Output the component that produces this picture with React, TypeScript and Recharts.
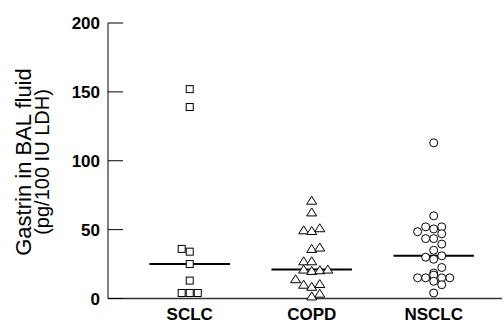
import React from 'react';
import { ScatterChart, Scatter, XAxis, YAxis, ReferenceLine } from 'recharts';

const groups = ['SCLC', 'COPD', 'NSCLC'];
const yTicks = [0, 50, 100, 150, 200];

// gastrin values, with the column slot each marker sits in
const sclcValues = [152, 139, 36, 34, 25, 13, 4, 4, 4];
const sclcSlots = [0, 0, -1, 0, 0, 0, -1, 0, 1];

const copdValues = [71, 62.5, 49.5, 49, 51, 36, 37, 27, 27, 21, 20, 20.5, 21, 14, 10, 8.5, 10.5, 1.5, 3.5];
const copdSlots = [0, 0, -1, 0, 1, 0, 1, -1, 0, -1, 0, 1, 2, -2, -1, 0, 1, 0, 1];

const nsclcValues = [113, 60, 52, 50.5, 52, 48.5, 47, 43.5, 43.5, 39.5, 35, 30, 28.5, 31, 22.5, 18.5, 15, 15, 17, 12.5, 15, 15, 10, 4];
const nsclcSlots = [0, 0, -1, 0, 1, -2, 1, -1, 0, 1, 0, -1, 0, 1, 1, 0, -2, -1, 0, 0, 1, 2, 1, 0];

const medians = [25, 21, 31];

const SLOT = 0.066;
const HALF = 0.33;
const FONT = '"Liberation Sans", Arial, Helvetica, sans-serif';

const toPoints = (values: number[], slots: number[], pos: number) =>
  values.map((v, i) => ({ x: pos + slots[i] * SLOT, y: v }));

const sclcData = toPoints(sclcValues, sclcSlots, 1);
const copdData = toPoints(copdValues, copdSlots, 2);
const nsclcData = toPoints(nsclcValues, nsclcSlots, 3);

const Square = ({ cx, cy }: any) => (
  <rect x={cx - 3.5} y={cy - 3.5} width={7} height={7} fill="#fff" stroke="#000" strokeWidth={1} />
);

const Triangle = ({ cx, cy }: any) => (
  <polygon
    points={`${cx},${cy - 4.5} ${cx - 5},${cy + 3.5} ${cx + 5},${cy + 3.5}`}
    fill="#fff"
    stroke="#000"
    strokeWidth={1}
  />
);

const Ring = ({ cx, cy }: any) => (
  <circle cx={cx} cy={cy} r={4} fill="#fff" stroke="#000" strokeWidth={1} />
);

// y ticks point into the plot, labels stay on the left
const YTick = ({ x, y, payload }: any) => (
  <g>
    <line x1={x + 8} x2={x + 23} y1={y} y2={y} stroke="#000" strokeWidth={1} />
    <text x={x} y={y} dy="0.36em" textAnchor="end" fontFamily={FONT} fontSize={17} fontWeight="bold" fill="#000">
      {payload.value}
    </text>
  </g>
);

const YTitle = () => (
  <g>
    <text
      x={23}
      y={162}
      transform="rotate(-90, 23, 162)"
      textAnchor="middle"
      dominantBaseline="central"
      fontFamily={FONT}
      fontSize={22}
      fill="#000"
    >
      Gastrin in BAL fluid
    </text>
    <text
      x={42}
      y={162}
      transform="rotate(-90, 42, 162)"
      textAnchor="middle"
      dominantBaseline="central"
      fontFamily={FONT}
      fontSize={20}
      fill="#000"
    >
      (pg/100 IU LDH)
    </text>
  </g>
);

export default function App() {
  return (
    <div style={{ position: 'absolute', left: 0, top: 0, background: '#fff' }}>
      <ScatterChart width={504} height={323} margin={{ top: 23, right: 2, bottom: 0, left: 0 }}>
        <XAxis
          type="number"
          dataKey="x"
          domain={[0.33, 3.56]}
          ticks={[1, 2, 3]}
          tickFormatter={(v: number) => groups[Math.round(v) - 1]}
          allowDataOverflow
          height={24.5}
          tickLine={false}
          tickSize={0}
          tickMargin={9}
          axisLine={{ stroke: '#333', strokeWidth: 1.5 }}
          tick={{ fill: '#000', fontSize: 17, fontWeight: 'bold', fontFamily: FONT }}
        />
        <YAxis
          type="number"
          dataKey="y"
          domain={[0, 200]}
          ticks={yTicks}
          width={108}
          tickLine={false}
          tickSize={0}
          tickMargin={8}
          axisLine={{ stroke: '#000', strokeWidth: 1 }}
          tick={<YTick />}
          label={{ content: () => <YTitle /> }}
        />
        {medians.map((m, i) => (
          <ReferenceLine
            key={groups[i]}
            segment={[{ x: i + 1 - HALF, y: m }, { x: i + 1 + HALF, y: m }]}
            stroke="#000"
            strokeWidth={2}
          />
        ))}
        <Scatter data={sclcData} shape={<Square />} isAnimationActive={false} />
        <Scatter data={copdData} shape={<Triangle />} isAnimationActive={false} />
        <Scatter data={nsclcData} shape={<Ring />} isAnimationActive={false} />
      </ScatterChart>
    </div>
  );
}
